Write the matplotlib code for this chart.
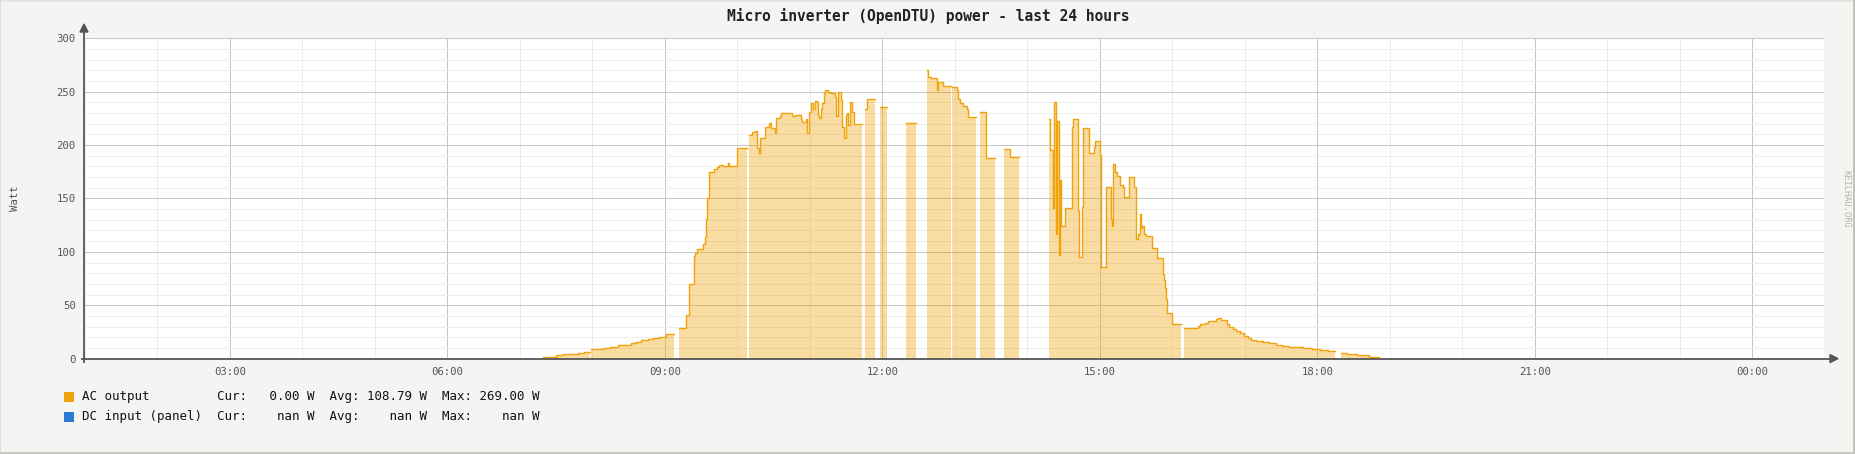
import numpy as np
import matplotlib
matplotlib.use('Agg')
import matplotlib.pyplot as plt
from matplotlib.lines import Line2D
from matplotlib.patches import Rectangle, Polygon

# Figure size in pixels (saved at 100 dpi).
W, H = 1856, 454

# AC output. Each value holds until the next time;
# nan marks a hole in the data.
ac_times = ['07:19', '07:30', '07:36', '07:42', '07:48', '07:53', '07:56', '07:58',
            '07:59', '08:04', '08:10', '08:15', '08:21', '08:26', '08:32', '08:36',
            '08:40', '08:46', '08:50', '08:55', '09:01', '09:08',
            '09:12', '09:18', '09:20', '09:24', '09:25', '09:27', '09:32', '09:33',
            '09:34', '09:35', '09:37', '09:41', '09:43', '09:45', '09:48', '09:52',
            '09:53', '10:00', '10:08',
            '10:10', '10:12', '10:15', '10:16', '10:18', '10:19', '10:23', '10:26',
            '10:28', '10:31', '10:32', '10:35', '10:36', '10:45', '10:48', '10:53',
            '10:54', '10:57', '10:58', '10:59', '11:01', '11:03', '11:04', '11:06',
            '11:07', '11:08', '11:09', '11:10', '11:12', '11:13', '11:15', '11:17',
            '11:21', '11:22', '11:23', '11:26', '11:27', '11:28', '11:30', '11:31',
            '11:32', '11:33', '11:35', '11:37', '11:43',
            '11:46', '11:47', '11:54',
            '11:58', '12:04',
            '12:20', '12:28',
            '12:37', '12:38', '12:40', '12:45', '12:46', '12:50', '12:57',
            '12:58', '13:02', '13:03', '13:04', '13:07', '13:10', '13:11', '13:18',
            '13:21', '13:26', '13:33',
            '13:41', '13:46', '13:53',
            '14:18', '14:19', '14:21', '14:22', '14:24', '14:25', '14:26', '14:27',
            '14:28', '14:31', '14:37', '14:38', '14:42', '14:43', '14:45', '14:46',
            '14:51', '14:55', '14:56', '15:00', '15:01', '15:05', '15:09', '15:10',
            '15:11', '15:13', '15:14', '15:17', '15:19', '15:20', '15:24', '15:28',
            '15:30', '15:32', '15:33', '15:34', '15:35', '15:37', '15:38', '15:43',
            '15:47', '15:52', '15:53', '15:54', '15:55', '15:56', '16:00', '16:07',
            '16:10', '16:21', '16:23', '16:27', '16:30', '16:36', '16:38', '16:40',
            '16:45', '16:47', '16:50', '16:53', '16:56', '16:59', '17:03', '17:05',
            '17:09', '17:15', '17:20', '17:26', '17:31', '17:37', '17:48', '17:56',
            '18:02', '18:09', '18:15',
            '18:20', '18:25', '18:33', '18:43', '18:51']
ac_watts = [1.2, 3.4, 4.0, 4.6, 5.3, 6.0, 6.5, np.nan,
            8.7, 9.4, 10.2, 11.2, 12.5, 13.2, 14.3, 16.0,
            17.4, 18.2, 19.0, 20.5, 22.8, np.nan,
            28.3, 41, 70, 96, 99, 103, 107, 114,
            131, 150, 175, 178, 179, 181, 180, 183,
            180, 197, np.nan,
            209, 212, 213, 197, 193, 207, 217, 221,
            216, 211, 225, 227, 230, 227, 228, 224,
            222, 224, 211, 231, 239, 234, 241, 240,
            228, 225, 234, 239, 249, 252, 250, 249,
            245, 227, 250, 242, 217, 207, 228, 230,
            219, 240, 231, 220, np.nan,
            234, 243, np.nan,
            236, np.nan,
            221, np.nan,
            270, 264, 263, 252, 259, 255, np.nan,
            254, 252, 243, 239, 237, 234, 226, np.nan,
            231, 188, np.nan,
            196, 189, np.nan,
            224, 195, 141, 240, 117, 223, 97, 167,
            124, 141, 217, 224, 138, 95, 142, 216,
            193, 198, 204, 191, 86, 161, 131, 124,
            182, 175, 171, 163, 161, 151, 170, 161,
            112, 117, 135, 122, 124, 117, 115, 104,
            94, 79, 74, 66, 56, 43, 32, np.nan,
            29, 30.5, 32.4, 33.7, 35.5, 37.1, 37.8, 36.2,
            32.4, 29.9, 27.4, 25.5, 23.7, 21.5, 19.6, 17.5,
            16.2, 15.2, 14.3, 13.1, 11.8, 10.9, 10.3, 9.3,
            8.1, 6.8, np.nan,
            5.3, 4.3, 3.4, 1.5, np.nan]

# Legend figures (W).
ac_cur, ac_avg, ac_max = 0.00, 108.79, 269.00
dc_cur, dc_avg, dc_max = np.nan, np.nan, np.nan

x_start, x_end = 0.99, 24.99   # hours, last 24 hours window
y_max = 300

ac_color = '#f0a30a'
dc_color = '#2a7ad6'
mono = 'DejaVu Sans Mono'


def hhmm(s):
    h, m = s.split(':')
    return int(h) + int(m) / 60.0


def px(x, y):
    """Pixel position (from top left) to figure fraction."""
    return x / W, 1 - y / H


t = np.array([hhmm(s) for s in ac_times])
w = np.array(ac_watts, dtype=float)
# step 'post' by hand so the last step before a hole is kept
xs = np.repeat(t, 2)[1:]
ys = np.repeat(w, 2)[:-1]

fig = plt.figure(figsize=(W / 100, H / 100), dpi=100, facecolor='#f4f4f2')

# plot area: x 84..1824, y 38.3..358.6 px
x0, y0 = px(84, 358.6)
x1, y1 = px(1824, 38.3)
ax = fig.add_axes([x0, y0, x1 - x0, y1 - y0])
ax.set_facecolor('white')
ax.set_xlim(x_start, x_end)
ax.set_ylim(0, y_max)

ax.fill_between(xs, 0, ys, color=ac_color, alpha=0.38, lw=0, zorder=2)
ax.plot(xs, ys, color=ac_color, lw=1.0, zorder=3)

major_h = np.arange(3, 25, 3)
ax.set_xticks(major_h)
ax.set_xticklabels(['%02d:00' % (h % 24) for h in major_h])
ax.set_xticks(np.arange(1, 25), minor=True)
ax.set_yticks(np.arange(0, y_max + 1, 50))
ax.set_yticks(np.arange(0, y_max + 1, 10), minor=True)
ax.grid(which='minor', color='#ededed', lw=0.72, zorder=0)
ax.grid(which='major', color='#c6c6c6', lw=0.72, zorder=1)
ax.set_axisbelow(True)
ax.tick_params(which='both', length=0, labelsize=7.7, labelcolor='#555555')
ax.tick_params(axis='x', pad=6)
ax.tick_params(axis='y', pad=6)
for lab in ax.get_xticklabels() + ax.get_yticklabels():
    lab.set_fontfamily(mono)
for sp in ax.spines.values():
    sp.set_visible(False)

# axes with arrow heads
axis_col = '#555555'
fig.add_artist(Line2D(*zip(px(84, 362), px(84, 30)), transform=fig.transFigure,
                      color=axis_col, lw=1.3))
fig.add_artist(Line2D(*zip(px(82, 358.6), px(1832, 358.6)), transform=fig.transFigure,
                      color=axis_col, lw=1.3))
fig.add_artist(Polygon([px(80, 32), px(88, 32), px(84, 24)], closed=True,
                       transform=fig.transFigure, color=axis_col))
fig.add_artist(Polygon([px(1830, 354.6), px(1830, 362.6), px(1838, 358.6)], closed=True,
                       transform=fig.transFigure, color=axis_col))

# texts
fig.text(*px(928, 16.5), 'Micro inverter (OpenDTU) power - last 24 hours',
         ha='center', va='center', family=mono, weight='bold', fontsize=10.5,
         color='#222222')
fig.text(*px(15, 198), 'Watt', rotation=90, ha='center', va='center',
         family=mono, fontsize=7.7, color='#555555')
fig.text(*px(1846, 199), 'KEILHAU.ORG', rotation=270, ha='center', va='center',
         family=mono, fontsize=6.3, color='#b4b4b4')


def fmt(v):
    return '%7.2f' % v if not np.isnan(v) else '    nan'


legend_rows = [
    ('AC output', ac_color, ac_cur, ac_avg, ac_max),
    ('DC input (panel)', dc_color, dc_cur, dc_avg, dc_max),
]
for i, (name, col, cur, avg, mx) in enumerate(legend_rows):
    yc = 396.6 + i * 20.2
    fig.add_artist(Rectangle(px(64, yc + 5), 10 / W, 10 / H, transform=fig.transFigure,
                             color=col, lw=0))
    line = '%-18sCur:%s W  Avg:%s W  Max:%s W' % (name, fmt(cur), fmt(avg), fmt(mx))
    fig.text(*px(82, yc), line, ha='left', va='center', family=mono,
             fontsize=9, color='#111111')

# frame around the image
fig.add_artist(Rectangle((0, 1 - 2 / H), 1, 2 / H, transform=fig.transFigure,
                         color='#e4e4e4', lw=0))
fig.add_artist(Rectangle((0, 0), 1.5 / W, 1, transform=fig.transFigure,
                         color='#dcdcdc', lw=0))
fig.add_artist(Rectangle((1 - 3 / W, 0), 3 / W, 1, transform=fig.transFigure,
                         color='#c2c2b8', lw=0))
fig.add_artist(Rectangle((0, 0), 1, 2 / H, transform=fig.transFigure,
                         color='#c8c8c0', lw=0))

fig.savefig('out.png', dpi=100, facecolor=fig.get_facecolor())
